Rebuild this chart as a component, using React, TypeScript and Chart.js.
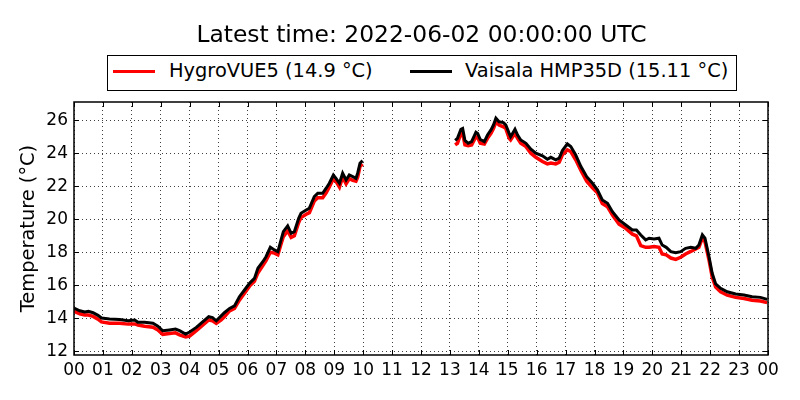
import { useEffect, useRef } from "react";
import { Chart, registerables } from "chart.js";

Chart.register(...registerables);

// hours since 00 UTC; null marks the data gap
const hours = [
  0.0, 0.2, 0.37, 0.5, 0.66, 0.83, 0.95, 1.23, 1.58, 1.87, 2.1, 2.21, 2.44, 2.73, 2.9, 3.07, 3.3, 3.51, 3.65,
  3.86, 4.0, 4.23, 4.46, 4.66, 4.79, 4.92, 5.09, 5.2, 5.38, 5.55, 5.72, 5.89, 6.07, 6.24, 6.36, 6.53, 6.64,
  6.79, 6.93, 7.05, 7.16, 7.24, 7.39, 7.51, 7.62, 7.77, 7.85, 8.03, 8.14, 8.31, 8.43, 8.6, 8.72, 8.83, 8.97,
  9.06, 9.18, 9.29, 9.41, 9.52, 9.64, 9.75, 9.81, 9.89, 9.98,
  11.6,
  13.18, 13.26, 13.38, 13.44, 13.52, 13.63, 13.75, 13.9, 13.96, 14.05, 14.19, 14.3, 14.42, 14.51, 14.59, 14.7,
  14.85, 14.93, 15.05, 15.1, 15.25, 15.34, 15.45, 15.63, 15.8, 15.97, 16.2, 16.37, 16.49, 16.66, 16.78, 16.89,
  17.06, 17.18, 17.35, 17.53, 17.73, 17.93, 18.1, 18.27, 18.45, 18.62, 18.85, 19.08, 19.31, 19.45, 19.6, 19.77,
  19.89, 20.06, 20.23, 20.34, 20.48, 20.64, 20.81, 20.98, 21.15, 21.33, 21.5, 21.61, 21.73, 21.82, 21.96,
  22.07, 22.19, 22.36, 22.59, 22.88, 23.17, 23.45, 23.74, 23.97,
];

const hygroVue = [
  14.42, 14.28, 14.2, 14.2, 14.12, 13.95, 13.78, 13.7, 13.7, 13.65, 13.66, 13.6, 13.52, 13.46, 13.3, 13.03,
  13.08, 13.12, 13.0, 12.88, 12.92, 13.25, 13.6, 13.9, 13.85, 13.7, 13.9, 14.1, 14.45, 14.6, 15.1, 15.5, 15.95,
  16.25, 16.75, 17.2, 17.5, 18.0, 17.95, 17.85, 18.5, 18.95, 19.3, 18.9, 19.0, 19.8, 20.1, 20.3, 20.4, 21.1,
  21.3, 21.3, 21.6, 21.95, 22.45, 22.3, 21.95, 22.55, 22.15, 22.45, 22.35, 22.3, 22.55, 23.2, 23.35,
  null,
  24.5, 24.6, 25.2, 25.2, 24.5, 24.45, 24.5, 25.0, 24.95, 24.6, 24.55, 24.9, 25.2, 25.5, 25.9, 25.7, 25.6,
  25.5, 24.9, 24.8, 25.2, 24.9, 24.6, 24.4, 24.0, 23.75, 23.5, 23.35, 23.4, 23.35, 23.45, 23.9, 24.2, 24.1,
  23.6, 22.95, 22.3, 21.9, 21.6, 20.95, 20.75, 20.26, 19.7, 19.45, 19.1, 19.0, 18.4, 18.3, 18.3, 18.35, 18.3,
  17.9, 17.84, 17.65, 17.57, 17.7, 17.9, 18.05, 18.2, 18.3, 18.85, 18.64, 17.53, 16.5, 15.9, 15.6, 15.4,
  15.27, 15.2, 15.1, 15.05, 14.95,
];

const vaisala = [
  14.62, 14.46, 14.38, 14.42, 14.34, 14.18, 14.02, 13.96, 13.93, 13.85, 13.9, 13.76, 13.76, 13.7, 13.53, 13.25,
  13.3, 13.35, 13.25, 13.05, 13.17, 13.45, 13.8, 14.1, 14.05, 13.85, 14.15, 14.34, 14.6, 14.75, 15.31, 15.7,
  16.12, 16.42, 17.03, 17.43, 17.73, 18.3, 18.14, 18.04, 18.75, 19.25, 19.6, 19.15, 19.25, 20.06, 20.36, 20.56,
  20.67, 21.37, 21.57, 21.57, 21.88, 22.18, 22.68, 22.48, 22.18, 22.79, 22.38, 22.68, 22.58, 22.48, 22.79,
  23.39, 23.55,
  null,
  24.78, 24.9, 25.45, 25.5, 24.77, 24.6, 24.7, 25.27, 25.2, 24.83, 24.7, 25.1, 25.41, 25.72, 26.12, 25.9,
  25.85, 25.72, 25.2, 25.0, 25.45, 25.1, 24.8, 24.6, 24.24, 24.0, 23.84, 23.63, 23.75, 23.6, 23.7, 24.16,
  24.56, 24.4, 23.9, 23.19, 22.58, 22.18, 21.78, 21.17, 20.97, 20.46, 19.96, 19.65, 19.35, 19.35, 19.05, 18.75,
  18.85, 18.8, 18.85, 18.44, 18.3, 18.04, 17.97, 18.04, 18.24, 18.3, 18.24, 18.44, 19.05, 18.85, 17.73,
  16.73, 16.08, 15.82, 15.61, 15.47, 15.41, 15.31, 15.27, 15.15,
];

const hourTicks = [0, 1, 2, 3, 4, 5, 6, 7, 8, 9, 10, 11, 12, 13, 14, 15, 16, 17, 18, 19, 20, 21, 22, 23, 24];
const tempTicks = [12, 14, 16, 18, 20, 22, 24, 26];

const seriesNames = ["HygroVUE5 (14.9 \u00b0C)", "Vaisala HMP35D (15.11 \u00b0C)"];
const seriesColors = ["#ff0000", "#000000"];
const titleText = "Latest time: 2022-06-02 00:00:00 UTC";

const FONT = "'DejaVu Sans', 'Liberation Sans', sans-serif";

// classic matplotlib look: full frame and inward ticks on every side
const frameTicks = {
  id: "frameTicks",
  afterDraw(chart: any) {
    const { ctx, chartArea: a, scales } = chart;
    ctx.save();
    ctx.strokeStyle = "#000";
    ctx.lineWidth = 1;
    ctx.beginPath();
    for (const h of hourTicks) {
      const x = Math.round(scales.x.getPixelForValue(h)) + 0.5;
      ctx.moveTo(x, a.bottom);
      ctx.lineTo(x, a.bottom - 5);
      ctx.moveTo(x, a.top);
      ctx.lineTo(x, a.top + 5);
    }
    for (const t of tempTicks) {
      const y = Math.round(scales.y.getPixelForValue(t)) + 0.5;
      ctx.moveTo(a.left, y);
      ctx.lineTo(a.left + 5, y);
      ctx.moveTo(a.right, y);
      ctx.lineTo(a.right - 5, y);
    }
    ctx.stroke();
    ctx.lineWidth = 1.5;
    ctx.strokeRect(a.left, a.top, a.right - a.left, a.bottom - a.top);
    ctx.restore();
  },
};

function TempChart() {
  const canvasRef = useRef<HTMLCanvasElement>(null);
  const chartRef = useRef<Chart | null>(null);

  useEffect(() => {
    if (!canvasRef.current) return;
    if (chartRef.current) chartRef.current.destroy();

    // dotted grid lines, matplotlib ':' style
    const gridStyle = { color: "rgba(0, 0, 0, 0.75)", lineWidth: 1, drawTicks: false };
    const borderStyle = { display: false, dash: [1, 3] };

    chartRef.current = new Chart(canvasRef.current, {
      type: "line",
      data: {
        datasets: [
          {
            label: seriesNames[1],
            data: hours.map((h, i) => ({ x: h, y: vaisala[i] })),
            borderColor: seriesColors[1],
            borderWidth: 3,
            pointRadius: 0,
            spanGaps: false,
            order: 0,
          },
          {
            label: seriesNames[0],
            data: hours.map((h, i) => ({ x: h, y: hygroVue[i] })),
            borderColor: seriesColors[0],
            borderWidth: 3.5,
            pointRadius: 0,
            spanGaps: false,
            order: 1,
          },
        ],
      },
      options: {
        animation: false,
        responsive: false,
        devicePixelRatio: 1,
        layout: { padding: { top: 102, right: 32, left: 0, bottom: 0 } },
        plugins: {
          legend: { display: false },
          tooltip: { enabled: false },
        },
        scales: {
          x: {
            type: "linear",
            min: 0,
            max: 24,
            afterBuildTicks: (s: any) => {
              s.ticks = hourTicks.map((v) => ({ value: v }));
            },
            afterFit: (s: any) => {
              s.height = 45;
            },
            grid: gridStyle,
            border: borderStyle,
            ticks: {
              color: "#000",
              font: { family: FONT, size: 17 },
              padding: 5,
              maxRotation: 0,
              autoSkip: false,
              callback: (v: any) => String(Number(v) % 24).padStart(2, "0"),
            },
          },
          y: {
            min: 11.78,
            max: 27.1,
            afterBuildTicks: (s: any) => {
              s.ticks = tempTicks.map((v) => ({ value: v }));
            },
            afterFit: (s: any) => {
              s.width = 74;
            },
            grid: gridStyle,
            border: borderStyle,
            ticks: {
              color: "#000",
              font: { family: FONT, size: 17 },
              padding: 6,
            },
            title: {
              display: true,
              text: "Temperature (\u00b0C)",
              color: "#000",
              font: { family: FONT, size: 19.4 },
              padding: { top: 17, bottom: 0 },
            },
          },
        },
      },
      plugins: [frameTicks],
    });

    return () => {
      if (chartRef.current) {
        chartRef.current.destroy();
        chartRef.current = null;
      }
    };
  }, []);

  return <canvas ref={canvasRef} width={800} height={400} style={{ position: "absolute", left: 0, top: 0 }} />;
}

export default function App() {
  const legendLines = [
    { lineLeft: 113, textLeft: 169 },
    { lineLeft: 410, textLeft: 465 },
  ];
  return (
    <div
      style={{
        position: "absolute",
        left: 0,
        top: 0,
        width: 800,
        height: 400,
        background: "#fff",
        fontFamily: FONT,
        color: "#000",
        overflow: "hidden",
      }}
    >
      <TempChart />
      <div
        style={{
          position: "absolute",
          left: 0,
          width: 843,
          top: 20,
          lineHeight: "28px",
          fontSize: 23.4,
          textAlign: "center",
          whiteSpace: "nowrap",
        }}
      >
        {titleText}
      </div>
      <div
        style={{
          position: "absolute",
          left: 107,
          top: 55,
          width: 628,
          height: 34,
          border: "1.5px solid #000",
          background: "#fff",
        }}
      />
      {seriesNames.map((name, i) => (
        <div key={name}>
          <div
            style={{
              position: "absolute",
              left: legendLines[i].lineLeft,
              top: 70,
              width: 42,
              height: 3,
              background: seriesColors[i],
            }}
          />
          <div
            style={{
              position: "absolute",
              left: legendLines[i].textLeft,
              top: 59,
              lineHeight: "24px",
              fontSize: 19.4,
              whiteSpace: "nowrap",
            }}
          >
            {name}
          </div>
        </div>
      ))}
    </div>
  );
}
